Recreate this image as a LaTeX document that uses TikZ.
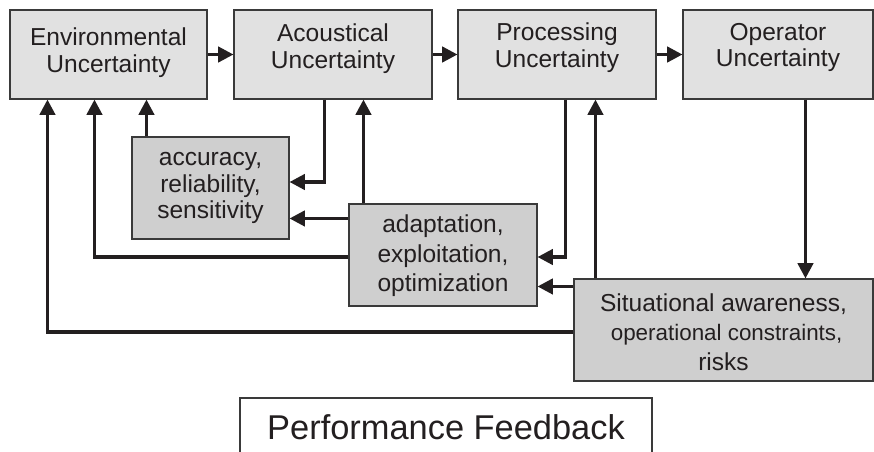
\documentclass[tikz,border=0pt]{standalone}
\usepackage{fontspec}
\setmainfont{Liberation Sans}
\usetikzlibrary{arrows.meta,calc}
\definecolor{ink}{HTML}{231F20}
\definecolor{edge}{HTML}{3A3A3A}
\definecolor{boxtop}{HTML}{E1E1E1}
\definecolor{boxlow}{HTML}{CFCFCF}
\begin{document}
\begin{tikzpicture}[x=0.75pt,y=-0.75pt,
  box/.style={draw=edge, line width=0.8pt, rectangle, inner sep=0pt},
  upper/.style={box, fill=boxtop, minimum height=66.75pt},
  lower/.style={box, fill=boxlow, minimum height=76.5pt},
  boxtext/.style={align=center, text=ink, inner sep=0pt, font=\fontsize{18.4}{20.2}\selectfont},
  looser/.style={font=\fontsize{18.4}{22.2}\selectfont},
  flow/.style={draw=ink, line width=2.5pt, -{Triangle[length=11.5pt,width=11.5pt]}}
]
\useasboundingbox (0,0) rectangle (874,451);
\clip (0,0) rectangle (874,451);

% uncertainty chain
\node[upper, minimum width=147.75pt] (env)  at (108.5,54.5) {};
\node[upper, minimum width=148.5pt]  (acou) at (333,54.5)   {};
\node[upper, minimum width=148.5pt]  (proc) at (557,54.5)   {};
\node[upper, minimum width=142.5pt]  (oper) at (778,54.5)   {};
\node[boxtext] (envtext)  at ($(env)+(0,-2)$)  {Environmental\\Uncertainty};
\node[boxtext] (acoutext) at ($(acou)+(0,-6)$) {Acoustical\\Uncertainty};
\node[boxtext] (proctext) at ($(proc)+(0,-7)$) {Processing\\Uncertainty};
\node[boxtext] (opertext) at ($(oper)+(0,-7)$) {Operator\\Uncertainty};

% feedback boxes
\node[lower, minimum width=117.75pt] (acc)  at (210.5,188) {};
\node[lower, minimum width=141pt]    (adap) at (443,255)   {};
\node[lower, minimum width=224.25pt] (sit)  at (723.5,330) {};
\node[boxtext] (acctext)  at (acc)  {accuracy,\\reliability,\\sensitivity};
\node[boxtext, looser] (adaptext) at ($(adap)+(0,1)$) {adaptation,\\exploitation,\\optimization};
\node[boxtext, looser] (sittext)  at ($(sit)+(0,2)$)  {Situational awareness,\\{\fontsize{16.8}{22.2}\selectfont\ operational constraints,}\\risks};

% title box
\node[box, fill=white, minimum width=309pt, minimum height=43.5pt,
      text=ink, font=\fontsize{25.8}{30}\selectfont] (perf) at (446,427) {Performance Feedback};

% forward chain
\draw[flow] (env.east)  -- (acou.west);
\draw[flow] (acou.east) -- (proc.west);
\draw[flow] (proc.east) -- (oper.west);

% feedback connectors
\coordinate (a1) at ($(acc.north west)+(15,0)$);
\draw[flow] (a1) -- (a1 |- env.south);

\coordinate (b1) at ($(acou.south west)+(91,0)$);
\draw[flow] (b1) |- ($(acc.east)+(0,-6)$);

\coordinate (c1) at ($(adap.north west)+(15,0)$);
\draw[flow] (c1) -- (c1 |- acou.south);

\coordinate (d1) at ($(adap.north west)+(0,15)$);
\draw[flow] (d1) -- (d1 -| acc.east);

\coordinate (e1) at ($(adap.west)+(0,2)$);
\coordinate (e2) at ($(env.south west)+(85,0)$);
\draw[flow] (e1) -| (e2);

\coordinate (f1) at ($(proc.south west)+(108,0)$);
\draw[flow] (f1) |- ($(adap.east)+(0,2)$);

\coordinate (g1) at ($(sit.north west)+(22,0)$);
\draw[flow] (g1) -- (g1 |- proc.south);

\coordinate (h1) at ($(sit.north west)+(0,8)$);
\draw[flow] (h1) -- (h1 -| adap.east);

\coordinate (i1) at ($(sit.west)+(0,2)$);
\coordinate (i2) at ($(env.south west)+(38,0)$);
\draw[flow] (i1) -| (i2);

\coordinate (j1) at ($(oper.south west)+(123,0)$);
\draw[flow] (j1) -- (j1 |- sit.north);
\end{tikzpicture}
\end{document}
